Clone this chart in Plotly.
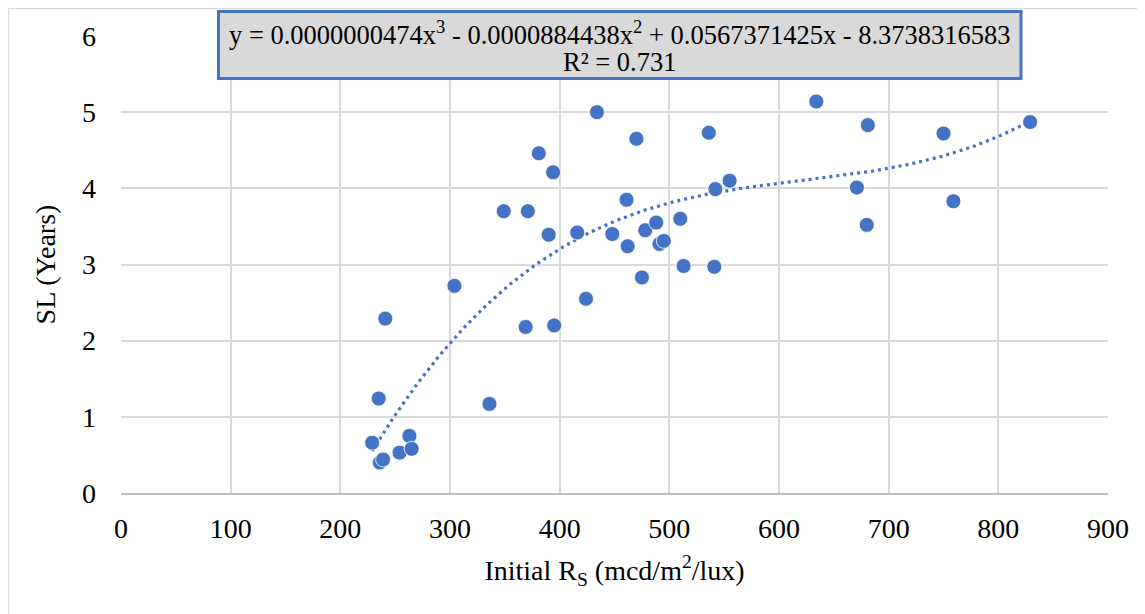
import numpy as np
import plotly.graph_objects as go

# Data
rs_initial = [229, 235, 236, 239, 241, 254, 263, 265, 304, 336, 349, 369, 371, 381,
              390, 394, 395, 416, 424, 434, 448, 461, 462, 470, 475, 478, 488, 491,
              495, 510, 513, 536, 541, 542, 555, 634, 671, 680, 681, 750, 759, 829]
sl_years = [0.66, 1.24, 0.40, 0.44, 2.29, 0.53, 0.75, 0.58, 2.72, 1.17, 3.70, 2.18, 3.70, 4.46,
            3.39, 4.21, 2.20, 3.42, 2.55, 5.00, 3.40, 3.85, 3.24, 4.65, 2.83, 3.45, 3.55, 3.27,
            3.31, 3.60, 2.98, 4.73, 2.97, 3.99, 4.10, 5.14, 4.01, 3.52, 4.83, 4.72, 3.83, 4.87]

# Trendline coefficients (highest power first) as shown in the equation label
trend_coeffs = [0.0000000474, -0.0000884438, 0.0567371425, -8.3738316583]
r_squared = 0.731

x_ticks = [0, 100, 200, 300, 400, 500, 600, 700, 800, 900]
y_ticks = [0, 1, 2, 3, 4, 5, 6]

blue = "#4472C4"
font_family = "Liberation Serif, Times New Roman, serif"

xt = np.linspace(min(rs_initial), max(rs_initial), 200)
yt = np.polyval(trend_coeffs, xt)

fig = go.Figure()
fig.add_trace(go.Scatter(
    x=xt, y=yt, mode="lines",
    line=dict(color=blue, width=3.2, dash="3px,4px"),
    hoverinfo="skip", showlegend=False))
fig.add_trace(go.Scatter(
    x=rs_initial, y=sl_years, mode="markers",
    marker=dict(color=blue, size=15, line=dict(color="white", width=0.8)),
    showlegend=False))

# page is shown with an 8px body offset; work in page pixels and convert
OFF = 8
W, H = 1145, 614
PL, PR, PT, PB = 121, 1108, 36, 493          # plot area in page pixels
L, T = PL - OFF, PT - OFF
R, B = W - (PR - OFF), H - (PB - OFF)
pw, ph = PR - PL, PB - PT

def px_x(p):
    return (p - PL) / pw

def px_y(p):
    return (PB - p) / ph

eq_line1 = "y = 0.0000000474x<sup>3</sup> - 0.0000884438x<sup>2</sup> + 0.0567371425x - 8.3738316583"
eq_line2 = "R² = %.3f" % r_squared

fig.update_layout(
    width=W, height=H,
    margin=dict(l=L, r=R, t=T, b=B, autoexpand=False),
    plot_bgcolor="white", paper_bgcolor="white",
    font=dict(family=font_family, size=28, color="#000000"),
    xaxis=dict(
        range=[0, 900], tickvals=x_ticks, showgrid=True, gridcolor="#D9D9D9", gridwidth=1.5,
        zeroline=False, showline=True, linecolor="#BFBFBF", linewidth=1.5,
        tickfont=dict(size=28), ticklabelstandoff=10, automargin=False,
        title=dict(text="Initial R<sub>S</sub> (mcd/m<sup>2</sup>/lux)", font=dict(size=28), standoff=17),
    ),
    yaxis=dict(
        range=[0, 6], tickvals=y_ticks, showgrid=True, gridcolor="#D9D9D9", gridwidth=1.5,
        zeroline=False, showline=False, automargin=False,
        tickfont=dict(size=28), ticklabelstandoff=24,
        title=dict(text="SL (Years)", font=dict(size=28), standoff=18),
    ),
    annotations=[
        dict(text=eq_line1, xref="paper", yref="paper",
             x=px_x(619.5), y=px_y(33), xanchor="center", yanchor="middle",
             showarrow=False, font=dict(family=font_family, size=26.5, color="#000000")),
        dict(text=eq_line2, xref="paper", yref="paper",
             x=px_x(619.5), y=px_y(62), xanchor="center", yanchor="middle",
             showarrow=False, font=dict(family=font_family, size=26.5, color="#000000")),
    ],
    shapes=[
        dict(type="rect", xref="paper", yref="paper",
             x0=px_x(OFF + 0.5), x1=px_x(1140), y0=px_y(700), y1=px_y(OFF + 0.5),
             line=dict(color="#D9D9D9", width=1.5), fillcolor="rgba(0,0,0,0)", layer="below"),
        dict(type="rect", xref="paper", yref="paper",
             x0=px_x(218.5), x1=px_x(1021), y0=px_y(78.5), y1=px_y(11.5),
             line=dict(color=blue, width=3), fillcolor="#D9D9D9", layer="above"),
    ],
)

fig.write_html("out.html")
